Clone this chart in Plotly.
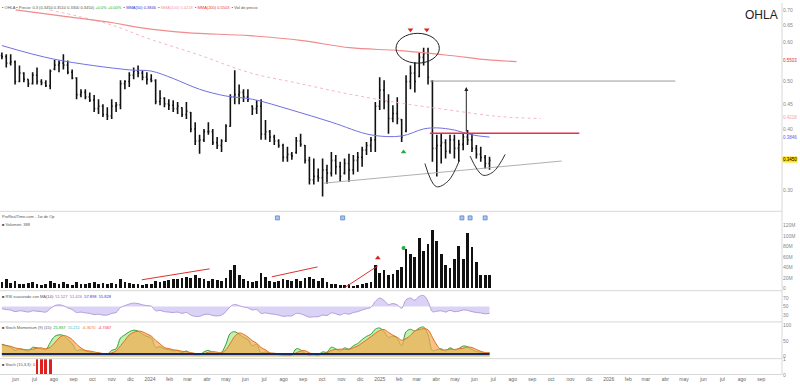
import plotly.graph_objects as go
import pandas as pd
import numpy as np

# ---------------- data ----------------
dates = pd.date_range("2023-05-10", periods=112, freq="7D")

high = [0.573,0.568,0.568,0.552,0.539,0.522,0.505,0.522,0.534,0.505,
        0.503,0.529,0.554,0.552,0.568,0.552,0.529,0.510,0.482,0.482,
        0.475,0.469,0.460,0.449,0.443,0.460,0.454,0.503,0.503,0.522,
        0.534,0.539,0.527,0.522,0.517,0.505,0.480,0.464,0.460,0.458,
        0.454,0.443,0.454,0.433,0.413,0.389,0.400,0.413,0.400,0.385,
        0.381,0.409,0.471,0.527,0.493,0.482,0.482,0.447,0.458,0.460,
        0.417,0.398,0.389,0.381,0.373,0.368,0.359,0.385,0.391,0.371,
        0.351,0.348,0.332,0.348,0.338,0.359,0.354,0.343,0.348,0.356,
        0.354,0.359,0.368,0.376,0.385,0.454,0.510,0.503,0.471,0.447,
        0.464,0.419,0.515,0.539,0.547,0.573,0.586,0.586,0.503,0.389,
        0.391,0.381,0.389,0.389,0.380,0.391,0.398,0.391,0.371,0.368,
        0.354,0.351]
low = [0.555,0.534,0.539,0.493,0.498,0.498,0.487,0.493,0.493,0.491,
       0.487,0.482,0.527,0.522,0.529,0.517,0.505,0.460,0.464,0.460,
       0.454,0.433,0.429,0.423,0.417,0.419,0.433,0.439,0.482,0.487,
       0.505,0.510,0.503,0.493,0.498,0.449,0.447,0.443,0.437,0.433,
       0.429,0.423,0.419,0.394,0.371,0.356,0.376,0.389,0.371,0.364,
       0.359,0.376,0.404,0.449,0.449,0.454,0.454,0.427,0.429,0.380,
       0.380,0.376,0.371,0.366,0.343,0.343,0.346,0.356,0.368,0.340,
       0.308,0.308,0.312,0.291,0.309,0.320,0.323,0.312,0.323,0.312,
       0.323,0.327,0.335,0.354,0.359,0.359,0.437,0.439,0.391,0.413,
       0.409,0.376,0.394,0.482,0.475,0.510,0.539,0.493,0.343,0.320,
       0.340,0.348,0.356,0.348,0.343,0.362,0.371,0.359,0.348,0.343,
       0.332,0.330]
close = [0.562,0.545,0.548,0.500,0.520,0.505,0.495,0.515,0.500,0.497,
         0.490,0.525,0.540,0.545,0.540,0.522,0.508,0.470,0.475,0.465,
         0.458,0.440,0.445,0.428,0.425,0.445,0.448,0.495,0.500,0.515,
         0.525,0.520,0.510,0.505,0.502,0.455,0.462,0.450,0.447,0.440,
         0.445,0.428,0.435,0.400,0.378,0.380,0.395,0.395,0.375,0.370,
         0.378,0.405,0.465,0.470,0.475,0.465,0.460,0.440,0.445,0.390,
         0.395,0.385,0.378,0.370,0.350,0.355,0.352,0.378,0.372,0.345,
         0.315,0.320,0.318,0.330,0.325,0.345,0.335,0.320,0.340,0.330,
         0.345,0.350,0.362,0.370,0.380,0.445,0.480,0.455,0.420,0.430,
         0.420,0.385,0.500,0.520,0.500,0.560,0.570,0.510,0.365,0.370,
         0.375,0.360,0.380,0.365,0.372,0.385,0.380,0.365,0.355,0.350,
         0.340,0.345]
open_ = [0.565,0.562,0.545,0.548,0.500,0.520,0.505,0.495,0.515,0.500,
         0.497,0.490,0.530,0.540,0.545,0.540,0.522,0.508,0.470,0.475,
         0.465,0.458,0.440,0.445,0.428,0.425,0.445,0.448,0.495,0.500,
         0.515,0.525,0.520,0.510,0.505,0.502,0.455,0.462,0.450,0.447,
         0.440,0.442,0.428,0.432,0.400,0.378,0.380,0.395,0.395,0.375,
         0.370,0.378,0.405,0.465,0.470,0.475,0.465,0.445,0.440,0.445,
         0.390,0.395,0.385,0.378,0.370,0.350,0.355,0.358,0.378,0.370,
         0.345,0.315,0.320,0.318,0.330,0.325,0.345,0.335,0.325,0.340,
         0.330,0.345,0.350,0.362,0.370,0.380,0.445,0.480,0.455,0.420,
         0.430,0.418,0.396,0.500,0.520,0.512,0.560,0.570,0.500,0.365,
         0.370,0.375,0.360,0.380,0.365,0.372,0.385,0.380,0.365,0.355,
         0.350,0.340]

# moving averages (bar index -> value)
ma_blue_idx = [1, 13, 30, 35, 40, 46, 52, 58, 67, 76, 85, 92, 97, 100, 104, 108, 112]
ma_blue_val = [0.592,0.555,0.528,0.525,0.507,0.482,0.467,0.460,0.437,0.413,
               0.389,0.387,0.400,0.402,0.398,0.389,0.385]

ma_red_dates = ["2023-06-01","2023-08-15","2023-11-03","2023-12-16","2024-02-28","2024-06-08",
                "2024-08-31","2024-11-14","2025-02-02","2025-04-23","2025-06-20","2025-08-07"]
ma_red_val = [0.700,0.680,0.659,0.644,0.629,0.620,0.606,0.586,0.578,0.565,0.554,0.549]

ma_pink_dates = ["2023-07-25","2023-10-27","2024-01-01","2024-03-20","2024-06-08",
                 "2024-08-27","2024-11-14","2025-02-02","2025-04-23","2025-07-11","2025-09-15"]
ma_pink_val = [0.700,0.655,0.610,0.566,0.521,0.495,0.471,0.452,0.437,0.424,0.420]

volume = [12,18,10,14,9,8,10,12,9,7,
          8,14,11,9,12,8,7,13,9,8,
          10,12,9,11,8,10,9,18,12,10,
          9,8,7,9,8,15,12,14,16,18,
          17,20,22,19,25,20,18,15,17,16,
          14,20,35,45,25,18,15,12,14,30,
          22,15,12,14,18,16,14,17,15,20,
          22,18,15,20,12,8,9,7,6,8,
          5,7,9,10,12,45,30,35,25,28,
          35,40,75,65,60,95,70,85,110,90,
          65,45,38,55,80,55,105,78,50,25,26,26]

rsi = [45,43,42,38,40,39,37,40,39,38,
       37,45,52,54,52,47,43,36,37,35,
       34,31,32,30,30,34,36,48,52,56,
       58,57,54,52,51,40,41,38,37,36,
       37,34,36,30,27,27,31,32,29,28,
       30,38,50,55,52,49,47,42,43,34,
       35,33,32,30,27,28,28,34,33,29,
       25,26,26,30,29,35,33,30,34,32,
       36,38,42,45,48,62,70,64,55,57,
       54,46,66,70,65,74,76,62,38,39,
       40,37,41,38,39,42,41,38,36,35,
       33,34]

stoch_k = [40,35,30,20,25,22,18,30,28,25,
           22,45,65,70,68,55,42,20,22,18,
           15,10,12,8,8,20,25,60,70,80,
           85,82,72,65,60,30,32,25,22,18,
           20,12,18,8,5,6,15,20,12,10,
           14,40,75,80,72,62,55,35,40,12,
           15,10,8,6,4,6,6,25,22,10,
           4,6,6,15,14,30,25,18,28,24,
           35,42,55,65,72,88,92,80,62,66,
           58,35,80,88,82,92,95,70,20,22,
           25,18,28,22,26,34,32,22,16,14,
           10,12]
stoch_d = [38,36,33,28,25,23,22,24,27,28,
           25,30,44,60,68,64,55,40,28,20,
           18,15,12,10,9,12,18,35,52,70,
           78,82,80,73,66,52,41,29,26,22,
           20,17,16,13,10,6,9,14,16,14,
           12,22,43,65,76,72,63,51,43,29,
           22,12,11,8,6,5,5,12,18,19,
           12,7,5,9,12,20,23,24,24,23,
           29,34,44,54,64,75,84,87,78,69,
           62,53,58,68,83,87,90,86,62,37,
           22,22,24,23,25,27,31,29,23,17,
           13,12]

signal_bars = [0,0,0,0,0,0,0,0,1,1,1,1,0,0,0,0,0,0,0,0,
               0,0,0,0,0,0,0,0,0,0,0,0,0,0,0,0,0,0,0,0,
               0,0,0,0,0,0,0,0,0,0,0,0,0,0,0,0,0,0,0,0,
               0,0,0,0,0,0,0,0,0,0,0,0,0,0,0,0,0,0,0,0,
               0,0,0,0,0,0,0,0,0,0,0,0,0,0,0,0,0,0,0,0,
               0,0,0,0,0,0,0,0,0,0,0,0]

# tick labels
price_ticks = [0.30, 0.40, 0.45, 0.50, 0.60, 0.65, 0.70]
price_tick_text = ["0.30", "0.40", "0.45", "0.50", "0.60", "0.65", "0.70"]
vol_ticks = [0, 20, 40, 60, 80, 100, 120]
vol_tick_text = ["0", "20M", "40M", "60M", "80M", "100M", "120M"]

month_names = ["ene","feb","mar","abr","may","jun","jul","ago","sep","oct","nov","dic"]
month_ticks = pd.date_range("2023-06-01", "2026-09-01", freq="MS")
month_text = [str(d.year) if d.month == 1 else month_names[d.month - 1] for d in month_ticks]

# drawings / annotation anchors
neck_price = 0.392
neck_dates = ["2025-03-22", "2025-11-15"]
resist_price = 0.501
resist_dates = ["2025-03-22", "2026-04-17"]
trend_dates = ["2024-10-04", "2025-10-18"]
trend_vals = [0.310, 0.344]
cup1_dates = ["2025-03-14", "2025-04-01", "2025-04-20", "2025-05-08"]
cup1_vals = [0.340, 0.305, 0.313, 0.345]
cup2_dates = ["2025-05-25", "2025-06-14", "2025-07-01", "2025-07-20"]
cup2_vals = [0.352, 0.322, 0.327, 0.355]
ellipse_dates = ["2025-01-27", "2025-04-06"]
ellipse_vals = [0.545, 0.627]
arrow_date = "2025-05-19"
arrow_top = 0.487
top_marks_dates = ["2025-02-19", "2025-03-17"]
top_marks_vals = [0.638, 0.638]
green_mark_date = ["2025-02-08"]
green_mark_val = [0.359]
event_dates = ["2024-07-22", "2024-11-03", "2025-05-12", "2025-05-25", "2025-06-18"]
vol_trend1 = (["2023-12-19", "2024-04-05"], [16.9, 37.6])
vol_trend2 = (["2024-07-13", "2024-09-24"], [22.5, 41.3])
vol_trend3 = (["2024-11-06", "2024-12-29"], [1.9, 43.2])
vol_red_mark = (["2024-12-29"], [58.0])
vol_green_mark = (["2025-02-08"], [77.0])

# ---------------- layout geometry ----------------
H_PLOT = 375.0
def dom(p0, p1):
    return [max(0.0, (H_PLOT - p1) / H_PLOT), min(1.0, (H_PLOT - p0) / H_PLOT)]

fig = go.Figure()
FONT = "Liberation Sans, Arial, sans-serif"
AX_COL = "#888"
DAY_MS = 86400000

# price
fig.add_trace(go.Ohlc(x=dates, open=open_, high=high, low=low, close=close,
                      increasing=dict(line=dict(color="#111", width=1.6)),
                      decreasing=dict(line=dict(color="#111", width=1.6)),
                      tickwidth=0.25, xaxis="x", yaxis="y", showlegend=False,
                      hoverinfo="skip"))
fig.add_trace(go.Scatter(x=ma_pink_dates, y=ma_pink_val, mode="lines", line=dict(color="#f4b8c4", width=1, dash="dot", shape="spline"), yaxis="y"))
fig.add_trace(go.Scatter(x=ma_red_dates, y=ma_red_val, mode="lines", line=dict(color="#f08c8c", width=1.2, shape="spline"), yaxis="y"))
fig.add_trace(go.Scatter(x=[dates[i - 1] for i in ma_blue_idx], y=ma_blue_val, mode="lines", line=dict(color="#7070e0", width=1, shape="spline"), yaxis="y"))
fig.add_trace(go.Scatter(x=trend_dates, y=trend_vals, mode="lines", line=dict(color="#b0b0b0", width=1), yaxis="y"))
fig.add_trace(go.Scatter(x=cup1_dates, y=cup1_vals, mode="lines", line=dict(color="#333", width=1, shape="spline"), yaxis="y"))
fig.add_trace(go.Scatter(x=cup2_dates, y=cup2_vals, mode="lines", line=dict(color="#333", width=1, shape="spline"), yaxis="y"))
fig.add_trace(go.Scatter(x=top_marks_dates, y=top_marks_vals, mode="markers", marker=dict(symbol="triangle-down", color="#e02020", size=5), yaxis="y"))
fig.add_trace(go.Scatter(x=green_mark_date, y=green_mark_val, mode="markers", marker=dict(symbol="triangle-up", color="#20b040", size=5), yaxis="y"))

# volume
fig.add_trace(go.Bar(x=dates, y=volume, marker=dict(color="#111", line=dict(width=0)), width=4.4 * DAY_MS, xaxis="x", yaxis="y2"))
for xs, ys in [vol_trend1, vol_trend2, vol_trend3]:
    fig.add_trace(go.Scatter(x=xs, y=ys, mode="lines", line=dict(color="#e03030", width=1), yaxis="y2"))
fig.add_trace(go.Scatter(x=vol_red_mark[0], y=vol_red_mark[1], mode="markers", marker=dict(symbol="triangle-up", color="#e02020", size=5), yaxis="y2"))
fig.add_trace(go.Scatter(x=vol_green_mark[0], y=vol_green_mark[1], mode="markers", marker=dict(symbol="circle", color="#20b040", size=4), yaxis="y2"))
fig.add_trace(go.Scatter(x=event_dates, y=[134] * len(event_dates), mode="markers", cliponaxis=False,
                         marker=dict(symbol="square", color="#a8c8f0", size=4, line=dict(color="#4a7ac0", width=0.7)), yaxis="y2"))

# rsi-like
fig.add_trace(go.Scatter(x=dates, y=[50] * len(dates), mode="lines", line=dict(width=0), yaxis="y3", hoverinfo="skip"))
fig.add_trace(go.Scatter(x=dates, y=rsi, mode="lines", line=dict(color="#b39ddb", width=1, shape="spline"), fill="tonexty", fillcolor="rgba(150,130,230,0.35)", yaxis="y3"))

# stochastic
fig.add_trace(go.Scatter(x=dates, y=stoch_k, mode="lines", line=dict(color="#3a9a3a", width=1, shape="spline"), fill="tozeroy", fillcolor="rgba(140,230,110,0.55)", yaxis="y4"))
fig.add_trace(go.Scatter(x=dates, y=stoch_d, mode="lines", line=dict(color="#e07020", width=1, shape="spline"), fill="tozeroy", fillcolor="rgba(245,170,80,0.7)", yaxis="y4"))
fig.add_trace(go.Scatter(x=dates, y=[8] * len(dates), mode="lines", line=dict(color="#1a2a6a", width=2), yaxis="y4"))

# signal bars
fig.add_trace(go.Bar(x=dates, y=signal_bars, marker=dict(color="#e02020", line=dict(width=0)), width=4.4 * DAY_MS, yaxis="y5"))

x_range = ["2023-05-07", "2026-10-04"]
common_y = dict(side="right", showgrid=False, zeroline=False, showline=False,
                tickfont=dict(size=5, color=AX_COL, family=FONT), ticks="", anchor="x")

fig.update_layout(
    width=800, height=387,
    margin=dict(l=0, r=18, t=0, b=12),
    paper_bgcolor="white", plot_bgcolor="white",
    showlegend=False, bargap=0,
    font=dict(family=FONT, size=5, color="#555"),
    xaxis=dict(type="date", range=x_range, showgrid=False, zeroline=False,
               tickvals=list(month_ticks), ticktext=month_text, ticks="",
               tickfont=dict(size=5, color="#666", family=FONT), showline=False,
               anchor="y5", rangeslider=dict(visible=False)),
    yaxis=dict(type="log", domain=dom(0, 208), range=[np.log10(0.2741), np.log10(0.7231)],
               tickvals=price_ticks, ticktext=price_tick_text, **common_y),
    yaxis2=dict(domain=dom(216, 289), range=[-1.85, 135.2], tickvals=vol_ticks, ticktext=vol_tick_text, **common_y),
    yaxis3=dict(domain=dom(291, 321), range=[15, 85], tickvals=[30, 50, 70], **common_y),
    yaxis4=dict(domain=dom(322, 358), range=[-5, 110], tickvals=[0, 50, 100], **common_y),
    yaxis5=dict(domain=dom(359, 375), range=[0, 1], tickvals=[0, 1], **common_y),
)

# separators
for p in [210, 290, 321.5, 358.5, 374.5]:
    fig.add_shape(type="line", xref="paper", yref="paper", x0=0, x1=1.0, y0=(H_PLOT - p) / H_PLOT, y1=(H_PLOT - p) / H_PLOT,
                  line=dict(color="#d8d8d8", width=1))
fig.add_shape(type="line", xref="paper", yref="paper", x0=1, x1=1, y0=0, y1=1, line=dict(color="#d8d8d8", width=1))

# chart drawings
fig.add_shape(type="line", xref="x", yref="y", x0=resist_dates[0], x1=resist_dates[1], y0=resist_price, y1=resist_price, line=dict(color="#9a9a9a", width=1))
fig.add_shape(type="line", xref="x", yref="y", x0=neck_dates[0], x1=neck_dates[1], y0=neck_price, y1=neck_price, line=dict(color="#e8304a", width=1.6))
fig.add_shape(type="circle", xref="x", yref="y", x0=ellipse_dates[0], x1=ellipse_dates[1], y0=ellipse_vals[0], y1=ellipse_vals[1], line=dict(color="#222", width=1))
fig.add_annotation(x=arrow_date, y=np.log10(arrow_top), ax=0, ay=46, xref="x", yref="y", axref="pixel", ayref="pixel",
                   showarrow=True, arrowhead=2, arrowsize=0.8, arrowwidth=1, arrowcolor="#222", text="")

# right-side value labels
def right_label(price, text, color, bg=None):
    fig.add_annotation(xref="paper", yref="y", x=1.0, y=np.log10(price), text=text, showarrow=False,
                       xanchor="left", font=dict(size=4.5, color=color, family=FONT),
                       bgcolor=bg, borderpad=0, xshift=0)
right_label(0.552, "0.5503", "#e03030")
right_label(0.422, "0.4218", "#f0a0b0")
right_label(0.384, "0.3846", "#6060e0")
right_label(0.346, "0.3450", "#000", "#ffe000")

# titles and header text
fig.add_annotation(xref="paper", yref="paper", x=0.997, y=0.992, text="OHLA", showarrow=False, xanchor="right", yanchor="top",
                   font=dict(size=12, color="#222", family=FONT))
fig.add_annotation(xref="paper", yref="paper", x=0.0, y=1.0, yanchor="top", xanchor="left", showarrow=False,
                   text="▪ OHLA ▪ Precio: 0.3 (0.3450 0.3510 0.3300 0.3450) <span style='color:#2a2'>+0.0% +0.00%</span>  ▪ <span style='color:#33c'>MMA(50) 0.3846</span>  ▪ <span style='color:#e9a'>MMA(100) 0.4218</span>  ▪ <span style='color:#e33'>MMA(200) 0.5503</span>  ▪ Vol de precio",
                   font=dict(size=4, color="#555", family=FONT))
fig.add_annotation(xref="paper", yref="paper", x=0.0, y=(H_PLOT - 211) / H_PLOT, yanchor="top", xanchor="left", showarrow=False,
                   text="ProRealTime.com - 1w de Op", font=dict(size=4, color="#555", family=FONT))
fig.add_annotation(xref="paper", yref="paper", x=0.0, y=(H_PLOT - 219) / H_PLOT, yanchor="top", xanchor="left", showarrow=False,
                   text="■ Volumen: 388", font=dict(size=4, color="#555", family=FONT))
fig.add_annotation(xref="paper", yref="paper", x=0.0, y=(H_PLOT - 291) / H_PLOT, yanchor="top", xanchor="left", showarrow=False,
                   text="■ RSI suavizado con MA(14): <span style='color:#96c'>51.527  51.426</span>  <span style='color:#33c'>57.898  55.828</span>", font=dict(size=4, color="#555", family=FONT))
fig.add_annotation(xref="paper", yref="paper", x=0.0, y=(H_PLOT - 323) / H_PLOT, yanchor="top", xanchor="left", showarrow=False,
                   text="■ Stoch Momentum (9) (15): <span style='color:#2a2'>25.837</span>  <span style='color:#3bc'>15.211</span>  <span style='color:#e72'>-6.3670</span>  <span style='color:#e33'>-4.7467</span>", font=dict(size=4, color="#555", family=FONT))
fig.add_annotation(xref="paper", yref="paper", x=0.0, y=(H_PLOT - 360) / H_PLOT, yanchor="top", xanchor="left", showarrow=False,
                   text="■ Stoch (15,3,3): 0", font=dict(size=4, color="#555", family=FONT))

fig.write_html("out.html", config={"displayModeBar": False},
               post_script="document.body.style.margin='0px';document.body.style.overflow='hidden';")
